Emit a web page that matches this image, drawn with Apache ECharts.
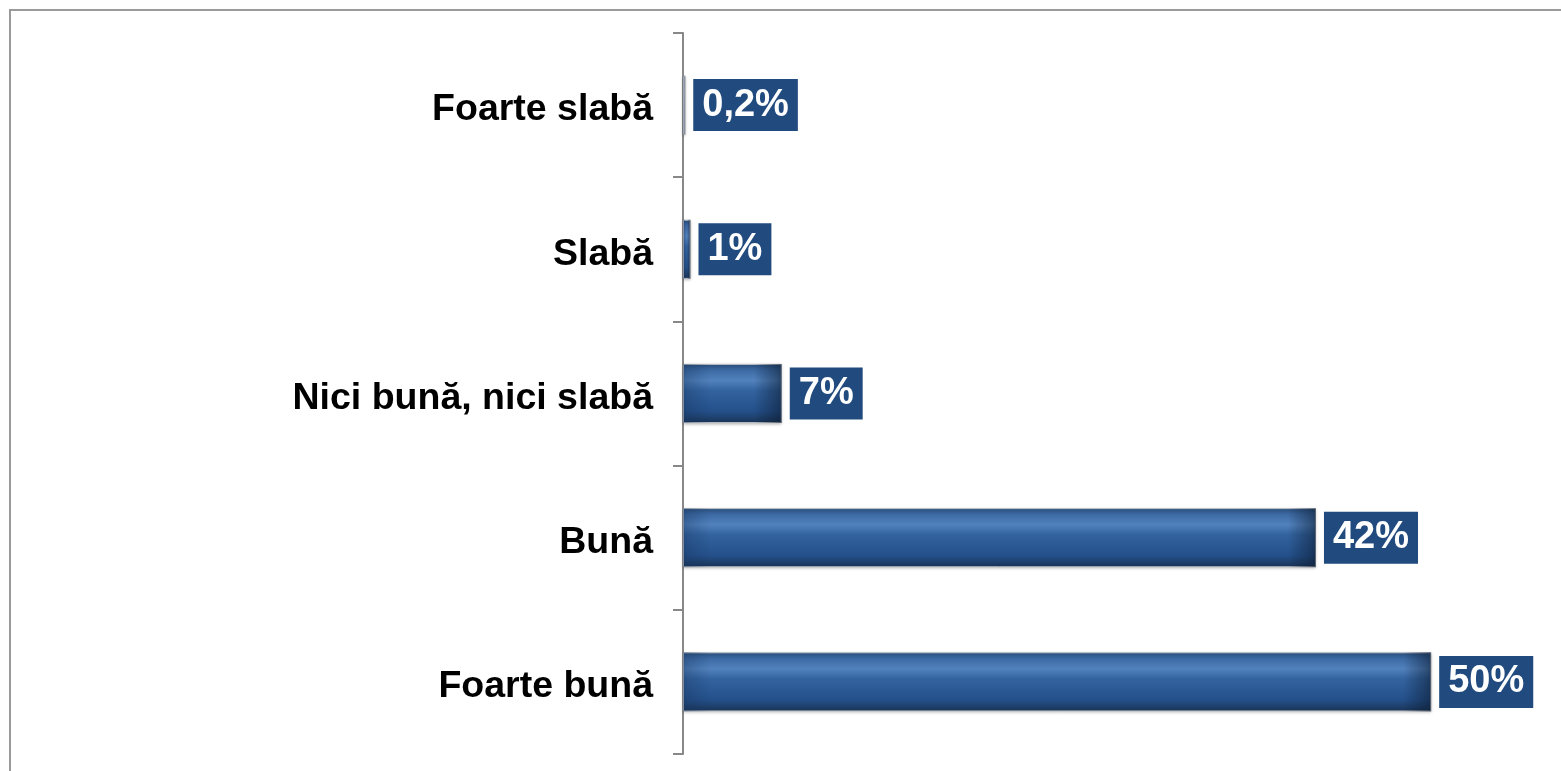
<!DOCTYPE html>
<html>
<head>
<meta charset="utf-8">
<script src="https://cdn.jsdelivr.net/npm/echarts@6/dist/echarts.min.js"></script>
<style>
  html, body { margin: 0; padding: 0; background: #fff; }
  #chart { width: 1561px; height: 771px; }
</style>
</head>
<body>
<div id="chart"></div>
<script>
// categories top to bottom
const categories = ['Foarte slabă', 'Slabă', 'Nici bună, nici slabă', 'Bună', 'Foarte bună'];
// bar lengths
const values = [0.15, 0.5, 6.6, 42.3, 50.0];
// label text as printed on the chart
const valueLabels = ['0,2%', '1%', '7%', '42%', '50%'];

const myChart = echarts.init(document.getElementById('chart'));

const xMax = 55;
const plotWidth = 823;

const barColor = new echarts.graphic.LinearGradient(0, 0, 0, 1, [
  { offset: 0, color: '#2c5486' },
  { offset: 0.12, color: '#3e6ca6' },
  { offset: 0.28, color: '#5282bd' },
  { offset: 0.45, color: '#33639f' },
  { offset: 0.8, color: '#24508a' },
  { offset: 1, color: '#1a3456' }
]);

// darker bevel at the two ends of each bar (~28px wide)
function bevel(v) {
  let px = v / xMax * plotWidth;
  let e = Math.min(0.45, 28 / Math.max(px, 1));
  return new echarts.graphic.LinearGradient(0, 0, 1, 0, [
    { offset: 0, color: 'rgba(20,50,90,0.35)' },
    { offset: e, color: 'rgba(20,50,90,0)' },
    { offset: 1 - e, color: 'rgba(10,25,45,0)' },
    { offset: 1, color: 'rgba(10,25,45,0.55)' }
  ]);
}

const options = {
  animation: false,
  backgroundColor: '#ffffff',
  graphic: [
    {
      type: 'rect',
      shape: { x: 10, y: 10, width: 1600, height: 800 },
      style: { fill: 'none', stroke: '#9a9a9a', lineWidth: 2 },
      silent: true
    }
  ],
  grid: {
    left: 683,
    right: 55,
    top: 33,
    bottom: 17
  },
  xAxis: {
    type: 'value',
    min: 0,
    max: xMax,
    show: false
  },
  yAxis: {
    type: 'category',
    inverse: true,
    data: categories,
    axisLine: {
      show: true,
      lineStyle: { color: '#888888', width: 2 }
    },
    axisTick: {
      show: true,
      length: 10,
      lineStyle: { color: '#888888', width: 2 }
    },
    axisLabel: {
      margin: 30,
      formatter: v => '{c|' + v + '}',
      rich: {
        c: {
          color: '#000000',
          fontSize: 37.5,
          fontWeight: 'bold',
          fontFamily: 'Liberation Sans, Arial, sans-serif',
          lineHeight: 40,
          padding: [10, 0, 0, 0]
        }
      }
    },
    splitLine: { show: false }
  },
  series: [
    {
      type: 'bar',
      data: values,
      barCategoryGap: '59%',
      itemStyle: {
        color: barColor,
        borderColor: '#b8bcc4',
        borderWidth: 1,
        shadowColor: 'rgba(0,0,0,0.25)',
        shadowBlur: 3,
        shadowOffsetY: 1
      },
      label: {
        show: true,
        position: 'right',
        distance: 8,
        formatter: p => valueLabels[p.dataIndex],
        color: '#ffffff',
        fontSize: 38,
        fontWeight: 'bold',
        fontFamily: 'Liberation Sans, Arial, sans-serif',
        backgroundColor: '#214a7e',
        lineHeight: 38,
        padding: [11, 9, 3, 9]
      }
    },
    {
      type: 'bar',
      barGap: '-100%',
      barCategoryGap: '59%',
      silent: true,
      data: values.map(v => ({ value: v, itemStyle: { color: bevel(v) } })),
      label: { show: false }
    }
  ]
};

myChart.setOption(options);
</script>
</body>
</html>
